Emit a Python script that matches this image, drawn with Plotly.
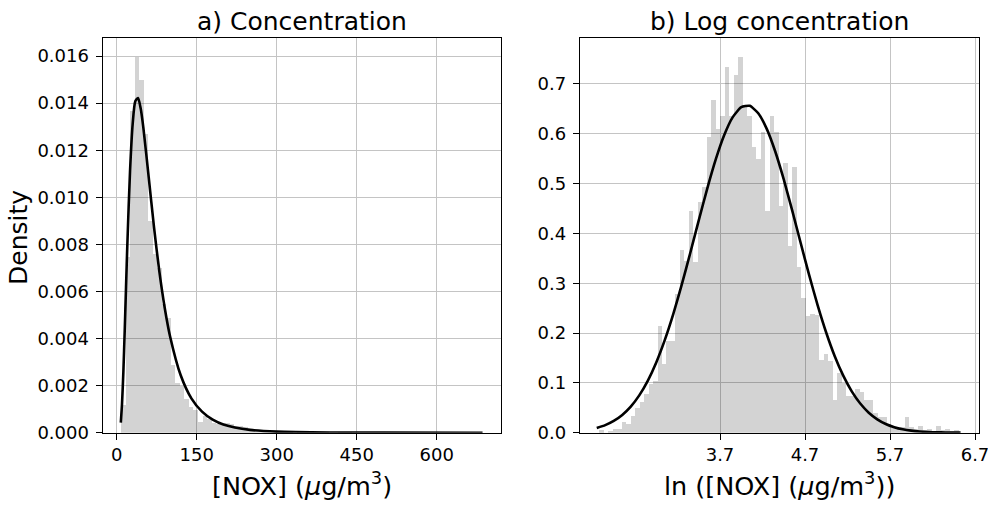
import numpy as np
import plotly.graph_objects as go

# ---------------- data ----------------
# a) concentration histogram (density), 80 equal bins
conc_bin_start = 7.7
conc_bin_width = 8.48
conc_density = [
    0.00119, 0.00750, 0.01370, 0.01600, 0.01500, 0.01270, 0.00900, 0.00760, 0.00700, 0.00550,
    0.00490, 0.00290, 0.00214, 0.00199, 0.00145, 0.00113, 0.00100, 0.00047, 0.00072, 0.00060,
    0.00045, 0.00039, 0.00042, 0.00043, 0.00038, 0.00031, 0.00029, 0.00027, 0.00017, 0.00014,
    0.00012, 0.00012, 0.00011, 0.00006, 0.00006, 0.00003, 0.00003, 0.00003, 0.000028, 0.000035,
    0.000035, 0.000086, 0.00009, 0.00005, 0.000034, 0.00003, 0.000023, 0.000022, 0.000033, 0.000035,
    0.000033, 0.000016, 0.000016, 0.000016, 0.000019, 0.000019, 0.000017, 0.00001, 0.00001, 0.000013,
    0.000028, 0.000028, 0.000027, 0.000016, 0.000012, 0.000012, 0.000013, 0.000015, 0.000015, 0.000015,
    0.000011, 0.000008, 0.000008, 0.000008, 0.000008, 0.00001, 0.00001, 0.00001, 0.00001, 0.00001,
]
# fitted curve, points
conc_curve_x = [7.7, 10, 12.5, 15, 17.5, 20, 25, 30, 35, 40, 45, 50, 60, 70, 80, 90, 100,
                120, 140, 160, 180, 200, 250, 300, 400, 500, 686]
conc_curve_y = [0.00043, 0.00123, 0.00259, 0.00431, 0.00619, 0.00803, 0.01111, 0.01313, 0.01409,
                0.01422, 0.01377, 0.01295, 0.01086, 0.00872, 0.00684, 0.00531, 0.00410,
                0.00244, 0.00146, 0.000894, 0.000555, 0.000351, 0.000121, 0.0000457, 0.0000082,
                0.000002, 0.0]

# b) log concentration histogram (density), 80 equal bins
log_bin_start = 2.277
log_bin_width = 0.0529
log_density = [
    0.006, 0.000, 0.004, 0.009, 0.009, 0.022, 0.018, 0.035, 0.050, 0.062,
    0.078, 0.099, 0.105, 0.216, 0.138, 0.186, 0.186, 0.280, 0.367, 0.345,
    0.445, 0.343, 0.463, 0.495, 0.595, 0.669, 0.611, 0.636, 0.734, 0.636,
    0.718, 0.755, 0.655, 0.636, 0.574, 0.551, 0.604, 0.446, 0.636, 0.604,
    0.455, 0.542, 0.376, 0.534, 0.333, 0.271, 0.235, 0.240, 0.238, 0.146,
    0.159, 0.145, 0.066, 0.120, 0.100, 0.075, 0.075, 0.089, 0.082, 0.066,
    0.066, 0.040, 0.032, 0.032, 0.019, 0.010, 0.009, 0.012, 0.032, 0.013,
    0.009, 0.015, 0.007, 0.009, 0.005, 0.015, 0.007, 0.009, 0.005, 0.006,
]
log_curve_x = [2.25, 2.35, 2.45, 2.55, 2.65, 2.75, 2.85, 2.95, 3.05, 3.15, 3.25, 3.35, 3.45,
               3.55, 3.65, 3.75, 3.85, 3.95, 4.05, 4.15, 4.25, 4.35, 4.45, 4.55, 4.65, 4.75,
               4.85, 4.95, 5.05, 5.15, 5.25, 5.35, 5.45, 5.55, 5.65, 5.75, 5.85, 5.95, 6.05,
               6.15, 6.25, 6.35, 6.45, 6.53]
log_curve_y = [0.0096, 0.0153, 0.0237, 0.0357, 0.0524, 0.0749, 0.1041, 0.1410, 0.1857, 0.2380,
               0.2970, 0.3606, 0.4261, 0.4899, 0.5483, 0.5973, 0.6332, 0.6532, 0.6559, 0.6410,
               0.6096, 0.5642, 0.5082, 0.4455, 0.3801, 0.3156, 0.2550, 0.2006, 0.1535, 0.1144,
               0.0829, 0.0585, 0.0402, 0.0269, 0.0175, 0.0111, 0.0068, 0.0041, 0.0024, 0.0014,
               0.00075, 0.0004, 0.0002, 0.0001]

conc_xticks = [0, 150, 300, 450, 600]
conc_yticks = [0.000, 0.002, 0.004, 0.006, 0.008, 0.010, 0.012, 0.014, 0.016]
log_xticks = [3.7, 4.7, 5.7, 6.7]
log_yticks = [0.0, 0.1, 0.2, 0.3, 0.4, 0.5, 0.6, 0.7]

titles = ["a) Concentration", "b) Log concentration"]
y_label = "Density"
x_labels = ["[NOX] (<i>μ</i>g/m<sup>3</sup>)", "ln ([NOX] (<i>μ</i>g/m<sup>3</sup>))"]

# ---------------- figure ----------------
W, H = 988, 505
FONT = "DejaVu Sans"
BAR_COLOR = "rgba(0,0,0,0.173)"   # light grey that lets grid lines show through

conc_centers = conc_bin_start + conc_bin_width * (np.arange(len(conc_density)) + 0.5)
log_centers = log_bin_start + log_bin_width * (np.arange(len(log_density)) + 0.5)

fig = go.Figure()
fig.add_trace(go.Bar(x=conc_centers, y=conc_density, width=conc_bin_width,
                     marker=dict(color=BAR_COLOR, line=dict(width=0)),
                     xaxis="x", yaxis="y", hoverinfo="skip"))
fig.add_trace(go.Scatter(x=conc_curve_x, y=conc_curve_y, mode="lines",
                         line=dict(color="black", width=2.6, shape="spline", smoothing=0.7),
                         xaxis="x", yaxis="y"))
fig.add_trace(go.Bar(x=log_centers, y=log_density, width=log_bin_width,
                     marker=dict(color=BAR_COLOR, line=dict(width=0)),
                     xaxis="x2", yaxis="y2", hoverinfo="skip"))
fig.add_trace(go.Scatter(x=log_curve_x, y=log_curve_y, mode="lines",
                         line=dict(color="black", width=2.6, shape="spline", smoothing=0.5),
                         xaxis="x2", yaxis="y2"))

def px_x(p):
    return p / W

def px_y(p):
    return 1 - p / H

common = dict(showline=True, linecolor="black", linewidth=1.3, mirror=True,
              ticks="outside", ticklen=6, tickwidth=1.3, tickcolor="black",
              showgrid=True, gridcolor="#c4c4c4", gridwidth=1.3, zeroline=False,
              automargin=False,
              tickfont=dict(family=FONT, size=18, color="black"), layer="above traces")

ydom = [px_y(432.7), px_y(37.5)]
fig.update_layout(
    width=W, height=H, margin=dict(l=0, r=0, t=0, b=0, autoexpand=False),
    paper_bgcolor="white", plot_bgcolor="white", showlegend=False, bargap=0,
    xaxis=dict(common, domain=[px_x(102.7), px_x(500.7)], range=[-26.25, 720],
               tickvals=conc_xticks, anchor="y"),
    yaxis=dict(common, domain=ydom, range=[0, 0.01679], tickvals=conc_yticks,
               tickformat=".3f", anchor="x", ticklabelstandoff=3),
    xaxis2=dict(common, domain=[px_x(580), px_x(979)], range=[2.053, 6.747],
                tickvals=log_xticks, tickformat=".1f", anchor="y2",
                ticklabeloverflow="allow"),
    yaxis2=dict(common, domain=ydom, range=[0, 0.793], tickvals=log_yticks,
                tickformat=".1f", anchor="x2", ticklabelstandoff=3),
)

ann = []
for cx, t in zip([301.7, 779.5], titles):
    ann.append(dict(text=t, x=px_x(cx), y=px_y(21), xref="paper", yref="paper",
                    xanchor="center", yanchor="middle", showarrow=False,
                    font=dict(family=FONT, size=25, color="black")))
for cx, t in zip([301.7, 779.5], x_labels):
    ann.append(dict(text=t, x=px_x(cx), y=px_y(484), xref="paper", yref="paper",
                    xanchor="center", yanchor="middle", showarrow=False,
                    font=dict(family=FONT, size=25.5, color="black")))
ann.append(dict(text=y_label, x=px_x(18), y=px_y(238), xref="paper", yref="paper",
                xanchor="center", yanchor="middle", textangle=-90, showarrow=False,
                font=dict(family=FONT, size=25, color="black")))
fig.update_layout(annotations=ann)

# the page's default 8px body margin would push the 988x505 figure out of the window
fig.write_html("out.html", config={"displayModeBar": False},
               post_script="document.body.style.margin='0';")
